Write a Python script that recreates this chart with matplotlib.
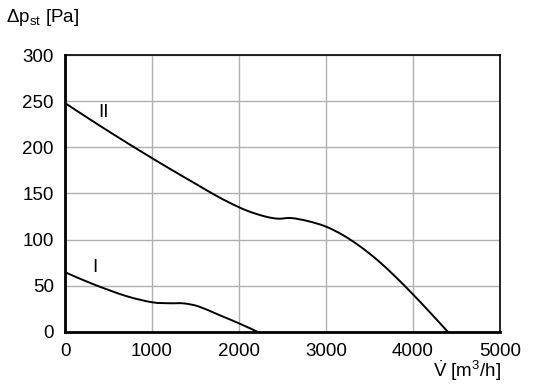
import matplotlib.pyplot as plt
import matplotlib.font_manager as fm
from matplotlib.path import Path
from matplotlib.patches import PathPatch

# === Curve data ===
flow_I = [0, 318, 700, 1000, 1198, 1370, 1542, 1771, 2000, 2211]
dp_I = [64.6, 51.8, 38.8, 32, 30.9, 30.7, 27.2, 18.2, 9.1, 0]

flow_II = [0, 300, 600, 900, 1200, 1500, 1700, 1900, 2100, 2300, 2450, 2600,
           2800, 3000, 3200, 3400, 3600, 3800, 4000, 4200, 4400]
dp_II = [248, 229.5, 211.5, 194, 177, 160.5, 149.5, 139.5, 131, 125, 122.6, 123.3,
         119.8, 114, 104.5, 92, 77, 59.5, 40.5, 20.5, 0]

x_ticks = [0, 1000, 2000, 3000, 4000, 5000]
y_ticks = [0, 50, 100, 150, 200, 250, 300]

names = {f.name for f in fm.fontManager.ttflist}
font = 'Liberation Sans Narrow' if 'Liberation Sans Narrow' in names else 'Liberation Sans'
plt.rcParams['font.family'] = [font, 'DejaVu Sans']
plt.rcParams['mathtext.fontset'] = 'custom'
plt.rcParams['mathtext.rm'] = font
plt.rcParams['mathtext.it'] = font


def smooth_path(xs, ys):
    # Catmull-Rom through the points, drawn as cubic Bezier segments
    pts = list(zip(xs, ys))
    verts = [pts[0]]
    codes = [Path.MOVETO]
    n = len(pts)
    for i in range(n - 1):
        p0 = pts[max(i - 1, 0)]
        p1 = pts[i]
        p2 = pts[i + 1]
        p3 = pts[min(i + 2, n - 1)]
        c1 = (p1[0] + (p2[0] - p0[0]) / 6, p1[1] + (p2[1] - p0[1]) / 6)
        c2 = (p2[0] - (p3[0] - p1[0]) / 6, p2[1] - (p3[1] - p1[1]) / 6)
        verts += [c1, c2, p2]
        codes += [Path.CURVE4] * 3
    return Path(verts, codes)


fig = plt.figure(figsize=(5.36, 3.88), dpi=100)
ax = fig.add_axes([0.1213, 0.145, 0.8115, 0.713])

for xs, ys in [(flow_I, dp_I), (flow_II, dp_II)]:
    ax.add_patch(PathPatch(smooth_path(xs, ys), facecolor='none',
                           edgecolor='black', lw=1.4, capstyle='butt'))

ax.set_xlim(0, 5000)
ax.set_ylim(0, 300)
ax.set_xticks(x_ticks)
ax.set_yticks(y_ticks)
ax.grid(True, color='#b0b0b0', lw=1.0)
ax.set_axisbelow(True)
ax.tick_params(length=0, labelsize=13.5, pad=8)

for side in ['top', 'right']:
    ax.spines[side].set_linewidth(1.2)
for side in ['left', 'bottom']:
    ax.spines[side].set_linewidth(2.0)

ax.text(437, 238, 'II', fontsize=13.5, ha='center', va='center')
ax.text(345, 70, 'I', fontsize=13.5, ha='center', va='center')

fig.text(0.012, 0.955, r'$\Delta\mathrm{p}_{\mathrm{st}}$ [Pa]', fontsize=13.5,
         ha='left', va='center')
fig.text(0.935, 0.045, r'$\dot{\mathrm{V}}$ [m$^{3}$/h]', fontsize=13.5,
         ha='right', va='center')

fig.savefig('out.png', dpi=100)
